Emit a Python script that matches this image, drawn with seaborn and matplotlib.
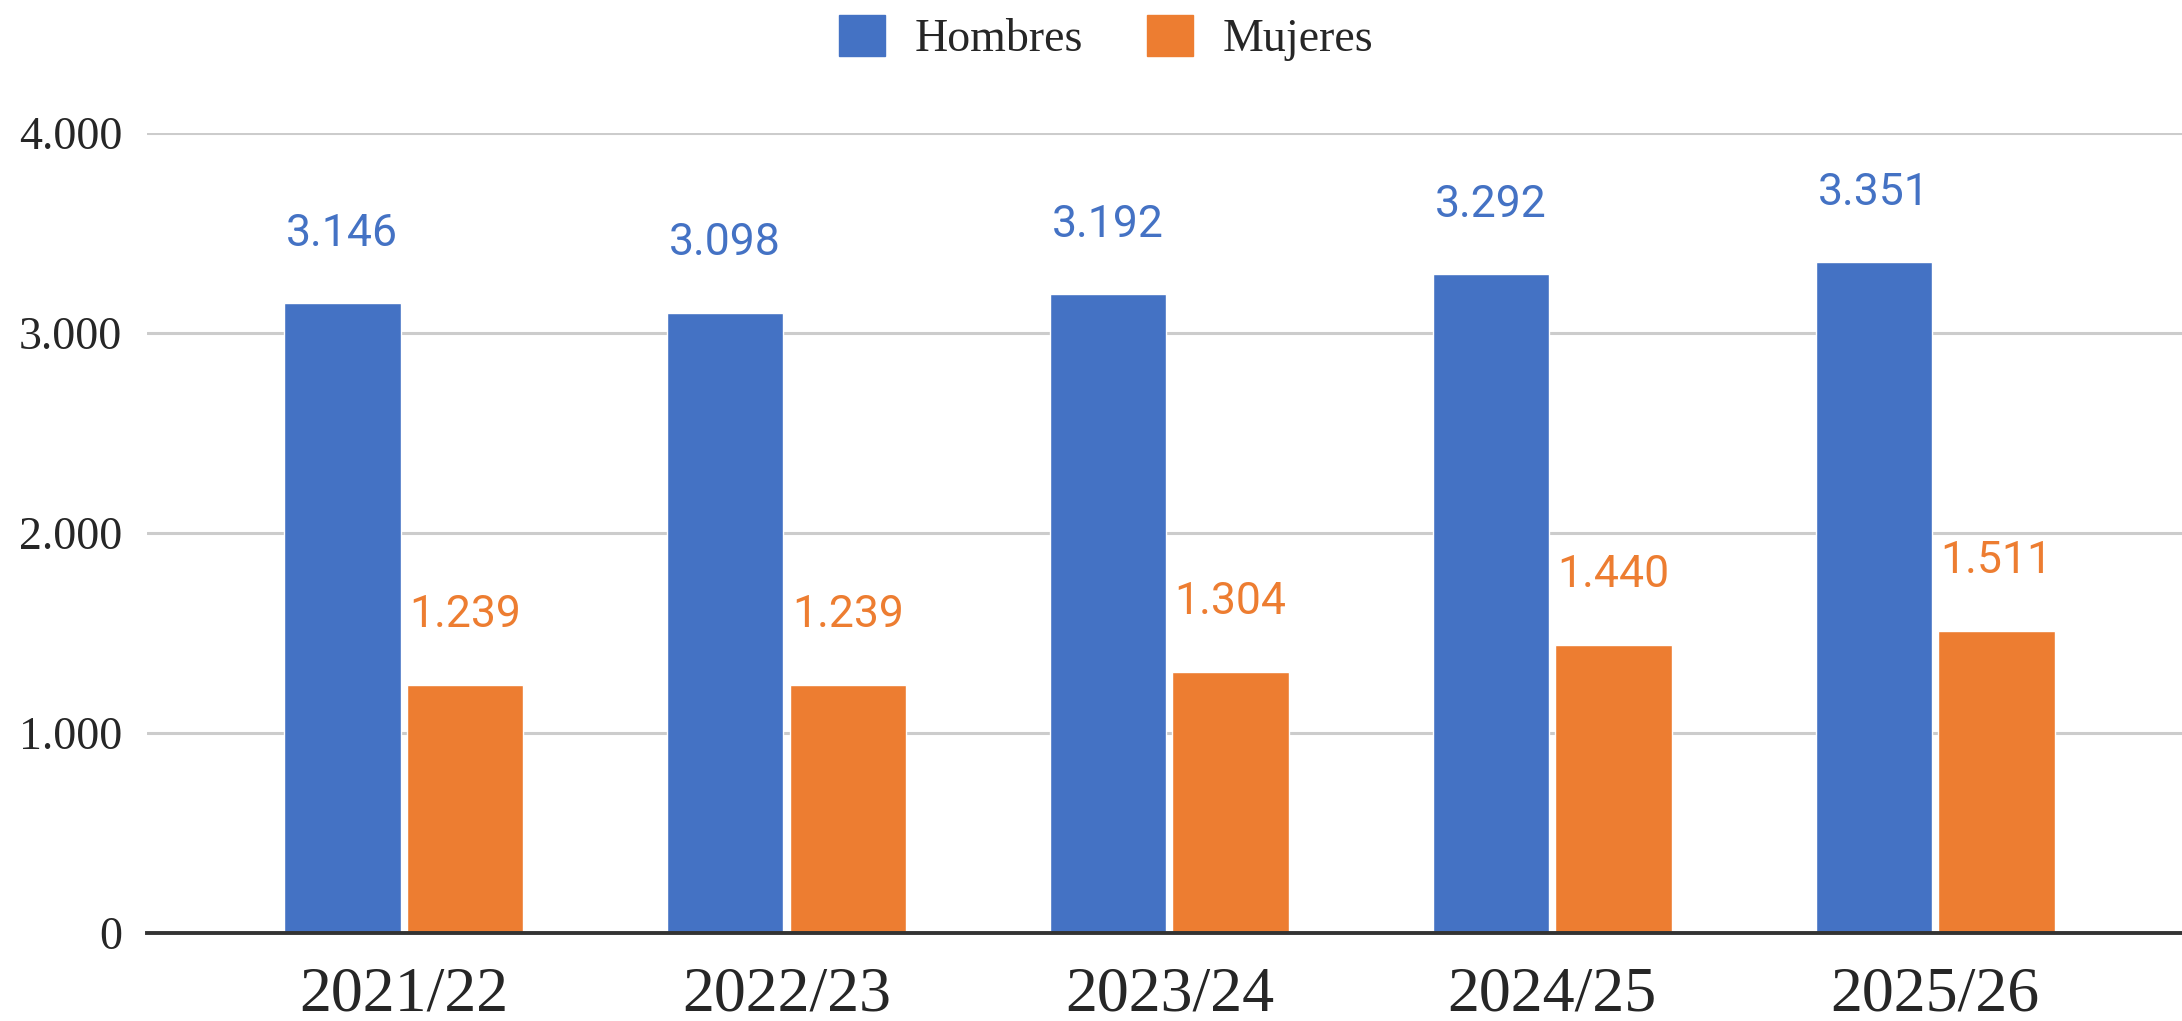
import pandas as pd
import seaborn as sns
import matplotlib.pyplot as plt

temporadas = ['2021/22', '2022/23', '2023/24', '2024/25', '2025/26']
hombres = [3146, 3098, 3192, 3292, 3351]
mujeres = [1239, 1239, 1304, 1440, 1511]
series = ['Hombres', 'Mujeres']
colores = ['#4472C4', '#ED7D31']

df = pd.DataFrame({
    'temporada': temporadas * 2,
    'valor': hombres + mujeres,
    'sexo': [series[0]] * len(temporadas) + [series[1]] * len(temporadas),
})


def miles(v):
    return f'{int(v):,}'.replace(',', '.')


sns.set_theme(style='white')
serif = ['Liberation Serif', 'DejaVu Serif']

fig = plt.figure(figsize=(21.82, 10.21), dpi=100)
ax = fig.add_axes([0.0674, 0.0862, 0.9326, 0.784])

sns.barplot(data=df, x='temporada', y='valor', hue='sexo', palette=colores,
            width=0.64, gap=0.05, saturation=1, ax=ax, zorder=3, legend=False)

# etiquetas de valor encima de cada barra
for cont, col in zip(ax.containers, colores):
    ax.bar_label(cont, labels=[miles(b.get_height()) for b in cont],
                 padding=35, color=col, fontsize=32, family='Roboto')

ax.set_ylim(0, 4000)
ax.set_xlim(-0.67, 4.645)
ax.set_yticks([0, 1000, 2000, 3000, 4000])
ax.set_yticklabels([miles(v) for v in [0, 1000, 2000, 3000, 4000]],
                   family=serif, fontsize=33)
ax.set_xticks(range(len(temporadas)))
ax.set_xticklabels(temporadas, family=serif, fontsize=46)
ax.tick_params(axis='y', length=0, pad=18)
ax.tick_params(axis='x', length=0, pad=24)
ax.set_xlabel('')
ax.set_ylabel('')
ax.yaxis.grid(True, color='#CCCCCC', linewidth=2.2, zorder=0)
for s in ['top', 'right', 'left']:
    ax.spines[s].set_visible(False)
ax.spines['bottom'].set_color('#333333')
ax.spines['bottom'].set_linewidth(2.8)
ax.spines['bottom'].set_zorder(4)

handles = [plt.Rectangle((0, 0), 1, 1, color=c) for c in colores]
fig.legend(handles, series, loc='center', bbox_to_anchor=(0.507, 0.963),
           ncol=2, frameon=False, prop={'family': serif, 'size': 33},
           handlelength=1.0, handleheight=1.0, handletextpad=0.65,
           columnspacing=1.4)

fig.savefig('out.png', dpi=100)
